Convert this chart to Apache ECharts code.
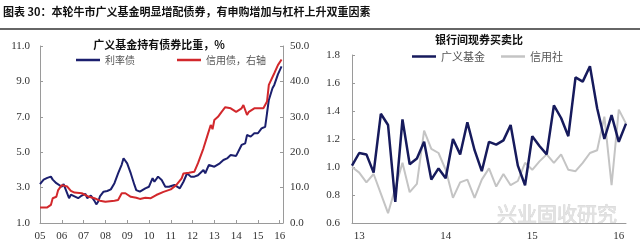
<!DOCTYPE html>
<html><head><meta charset="utf-8">
<script src="https://cdn.jsdelivr.net/npm/echarts@6/dist/echarts.min.js"></script>
<style>html,body{margin:0;padding:0;background:#fff}#c{width:640px;height:246px}</style>
</head><body><div id="c"></div>
<script>
const mainTitle = '图表 30：本轮牛市广义基金明显增配债券，有申购增加与杠杆上升双重因素';
const leftTitle = '广义基金持有债券比重，%';
const leftNames = ['利率债', '信用债，右轴'];
const rightTitle = '银行间现券买卖比';
const rightNames = ['广义基金', '信用社'];
const watermark = '兴业固收研究';

// left chart: 利率债 (left axis, %)
const rateDates = ['2005-01','2005-03','2005-05','2005-07','2005-08','2005-10','2005-11','2006-01','2006-02','2006-03','2006-05','2006-06','2006-08','2006-10','2006-12','2007-02','2007-03','2007-05','2007-07','2007-08','2007-09','2007-10','2007-12','2008-02','2008-04','2008-06','2008-08','2008-10','2008-11','2009-01','2009-03','2009-05','2009-06','2009-08','2009-11','2010-01','2010-03','2010-04','2010-06','2010-08','2010-10','2010-12','2011-03','2011-06','2011-08','2011-10','2011-12','2012-02','2012-04','2012-07','2012-08','2012-10','2013-01','2013-04','2013-06','2013-08','2013-10','2014-01','2014-04','2014-06','2014-07','2014-09','2014-11','2015-01','2015-03','2015-05','2015-06','2015-07','2015-09','2015-10','2015-12','2016-02'];
const rateValues = [3.20,3.45,3.55,3.62,3.45,3.25,3.15,3.05,3.20,3.10,2.40,2.60,2.50,2.40,2.55,2.65,2.40,2.55,2.25,2.05,2.20,2.50,2.77,2.81,2.90,3.25,3.80,4.30,4.66,4.37,3.80,3.15,2.86,2.77,2.96,3.05,3.53,3.33,3.62,3.43,3.05,3.05,3.15,2.96,3.33,3.81,3.62,3.62,3.70,3.99,3.81,4.28,4.18,4.37,4.56,4.65,4.84,4.79,5.41,5.50,5.97,5.88,6.07,6.07,6.35,6.44,7.20,7.95,8.61,8.80,9.40,9.85];

// left chart: 信用债 (right axis, %)
const creditDates = ['2005-01','2005-05','2005-07','2005-08','2005-10','2005-11','2006-01','2006-02','2006-04','2006-06','2006-08','2006-12','2007-04','2007-07','2007-10','2008-01','2008-06','2008-08','2008-10','2008-12','2009-03','2009-06','2009-08','2009-11','2010-02','2010-05','2010-09','2011-01','2011-04','2011-07','2011-08','2011-11','2012-02','2012-04','2012-07','2012-09','2012-11','2012-12','2013-01','2013-03','2013-05','2013-07','2013-10','2014-01','2014-04','2014-05','2014-07','2014-08','2014-11','2015-04','2015-06','2015-07','2015-10','2015-12','2016-02'];
const creditValues = [4.4,4.4,5.1,7.0,7.4,9.3,10.7,11.0,10.3,9.1,8.6,8.4,7.4,7.0,6.3,6.0,6.3,6.5,8.4,8.4,7.4,7.15,6.8,7.15,7.0,7.9,8.8,9.5,10.7,12.6,14.0,14.2,14.5,16.9,21.1,24.4,27.7,26.5,29.1,30.0,31.4,32.7,32.4,31.4,32.4,33.3,30.5,31.4,32.4,32.4,34.3,39.0,42.3,44.6,46.2];

// right chart: monthly buy/sell ratio
const rightMonths = ['2012-12','2013-01','2013-02','2013-03','2013-04','2013-05','2013-06','2013-07','2013-08','2013-09','2013-10','2013-11','2013-12','2014-01','2014-02','2014-03','2014-04','2014-05','2014-06','2014-07','2014-08','2014-09','2014-10','2014-11','2014-12','2015-01','2015-02','2015-03','2015-04','2015-05','2015-06','2015-07','2015-08','2015-09','2015-10','2015-11','2015-12','2016-01','2016-02'];
const fundRatio = [1.01,1.10,1.09,0.96,1.38,1.30,0.75,1.34,1.02,1.06,1.18,0.91,0.99,0.92,1.20,1.09,1.32,1.12,0.97,1.18,1.16,1.19,1.30,1.01,0.87,1.22,1.15,1.09,1.44,1.35,1.22,1.64,1.61,1.72,1.42,1.20,1.37,1.18,1.31];
const ruralRatio = [1.00,0.96,0.89,0.95,0.81,0.67,0.85,1.03,0.82,0.88,1.26,1.13,1.10,0.98,0.78,0.89,0.91,0.78,0.91,0.99,0.86,0.95,0.87,0.90,1.03,0.98,1.04,1.09,1.03,1.09,0.98,0.97,1.03,1.10,1.12,1.36,0.87,1.41,1.31];
const rightYearLabels = {'2013-01':'13','2014-01':'14','2015-01':'15','2016-01':'16'};

const toYear = s => +s.slice(0,4) + (+s.slice(5,7) - 1) / 12;
const serif = '"Liberation Serif", "Times New Roman", serif';
const cjk = '"Noto Sans CJK SC", sans-serif';
const axisColor = '#9a9a9a';

const chart = echarts.init(document.getElementById('c'), null, {renderer: 'canvas'});
const valAxisBase = (extra) => Object.assign({
  splitLine: {show: false},
  axisLine: {show: true, lineStyle: {color: axisColor, width: 1}},
  axisTick: {show: true, inside: true, length: 3, lineStyle: {color: axisColor}},
  axisLabel: {fontFamily: serif, fontSize: 11, color: '#333'}
}, extra);

chart.setOption({
  animation: false,
  backgroundColor: '#fff',
  grid: [
    {left: 40, right: 357, top: 46, bottom: 23},
    {left: 352, right: 14, top: 55, bottom: 23}
  ],
  xAxis: [
    valAxisBase({type: 'value', gridIndex: 0, min: 2005, max: 2016.15, interval: 1,
      axisLabel: {fontFamily: serif, fontSize: 11, color: '#333', margin: 8,
        formatter: v => Math.abs(v - Math.round(v)) < 1e-6 ? String(Math.round(v)).slice(2) : ''}}),
    {type: 'category', gridIndex: 1, data: rightMonths, boundaryGap: false,
      axisLine: {show: true, lineStyle: {color: axisColor, width: 1}},
      axisTick: {show: false},
      splitLine: {show: false},
      axisLabel: {fontFamily: serif, fontSize: 11, color: '#333', margin: 8,
        interval: (i, v) => rightYearLabels[v] !== undefined,
        formatter: v => rightYearLabels[v] || ''}}
  ],
  yAxis: [
    valAxisBase({type: 'value', gridIndex: 0, position: 'left', min: 1, max: 11, interval: 2,
      axisLabel: {fontFamily: serif, fontSize: 11, color: '#333', margin: 10, formatter: v => v.toFixed(1)}}),
    valAxisBase({type: 'value', gridIndex: 0, position: 'right', min: 0, max: 50, interval: 10,
      axisLabel: {fontFamily: serif, fontSize: 11, color: '#333', margin: 7, formatter: v => v.toFixed(1)}}),
    valAxisBase({type: 'value', gridIndex: 1, position: 'left', min: 0.6, max: 1.8, interval: 0.2,
      axisLabel: {fontFamily: serif, fontSize: 11, color: '#333', margin: 12, formatter: v => v.toFixed(1)}})
  ],
  legend: [
    {data: leftNames, left: 76, top: 55, padding: 0, icon: 'rect', itemWidth: 24, itemHeight: 2.5, itemGap: 42,
      textStyle: {fontFamily: cjk, fontSize: 10, color: '#555'}},
    {data: rightNames, left: 412, top: 51, padding: 0, icon: 'rect', itemWidth: 24, itemHeight: 2.5, itemGap: 16,
      textStyle: {fontFamily: cjk, fontSize: 11, color: '#555'}}
  ],
  graphic: [
    {type: 'text', x: 3, y: 12, style: {text: mainTitle, font: 'bold 11px ' + cjk, fill: '#111', verticalAlign: 'middle'}},
    {type: 'rect', shape: {x: 0, y: 28, width: 640, height: 2}, style: {fill: '#666'}},
    {type: 'text', x: 159, y: 45, style: {text: leftTitle, font: 'bold 11px ' + cjk, fill: '#111', align: 'center', verticalAlign: 'middle'}},
    {type: 'text', x: 479, y: 40, style: {text: rightTitle, font: 'bold 11px ' + cjk, fill: '#111', align: 'center', verticalAlign: 'middle'}},
    {type: 'text', x: 497, y: 214, z: -10, style: {text: watermark, font: '20px ' + cjk, fill: '#e2e2e2', stroke: '#cfcfcf', lineWidth: 0.6, verticalAlign: 'middle'}}
  ],
  series: [
    {name: leftNames[0], type: 'line', xAxisIndex: 0, yAxisIndex: 0, symbol: 'none',
      data: rateDates.map((d, i) => [toYear(d), rateValues[i]]),
      lineStyle: {color: '#1b1f6e', width: 2}, itemStyle: {color: '#1b1f6e'}},
    {name: leftNames[1], type: 'line', xAxisIndex: 0, yAxisIndex: 1, symbol: 'none',
      data: creditDates.map((d, i) => [toYear(d), creditValues[i]]),
      lineStyle: {color: '#d2282c', width: 2}, itemStyle: {color: '#d2282c'}},
    {name: rightNames[1], type: 'line', xAxisIndex: 1, yAxisIndex: 2, symbol: 'none',
      data: ruralRatio,
      lineStyle: {color: '#c4c4c4', width: 2}, itemStyle: {color: '#c4c4c4'}},
    {name: rightNames[0], type: 'line', xAxisIndex: 1, yAxisIndex: 2, symbol: 'none',
      data: fundRatio,
      lineStyle: {color: '#161a5c', width: 2.5}, itemStyle: {color: '#161a5c'}}
  ]
});
</script></body></html>
